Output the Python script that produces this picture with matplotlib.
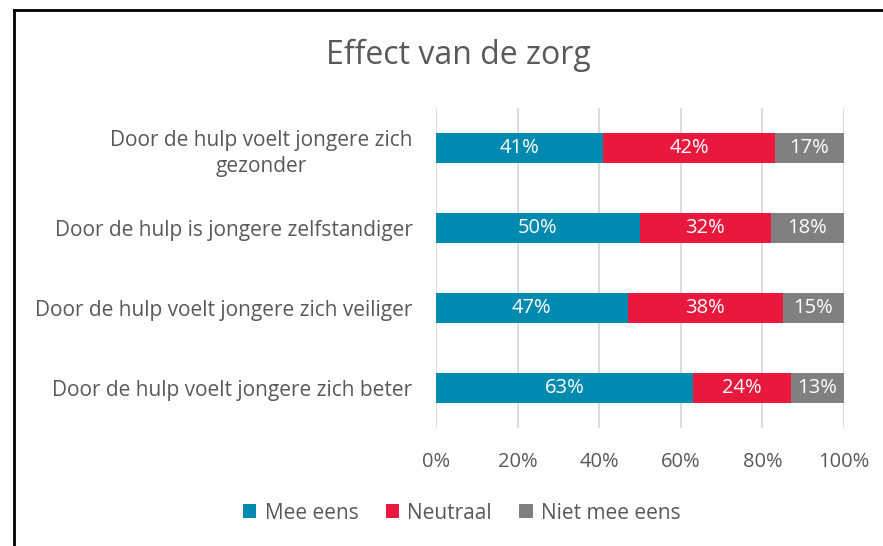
import matplotlib.pyplot as plt
from matplotlib.lines import Line2D

categories = [
    'Door de hulp voelt jongere zich\ngezonder',
    'Door de hulp is jongere zelfstandiger',
    'Door de hulp voelt jongere zich veiliger',
    'Door de hulp voelt jongere zich beter',
]
mee_eens = [41, 50, 47, 63]
neutraal = [42, 32, 38, 24]
niet_mee_eens = [17, 18, 15, 13]
series_names = ['Mee eens', 'Neutraal', 'Niet mee eens']
colors = ['#008AB0', '#E8193C', '#808080']
text_color = '#595959'

plt.rcParams['font.family'] = ['Open Sans', 'DejaVu Sans']

fig = plt.figure(figsize=(8.83, 5.46), dpi=100)
ax = fig.add_axes([0.4938, 0.2161, 0.462, 0.5861])

ypos = list(range(len(categories)))
left = [0] * len(categories)
for name, vals, col in zip(series_names, [mee_eens, neutraal, niet_mee_eens], colors):
    bars = ax.barh(ypos, vals, left=left, height=0.375, color=col, label=name, zorder=3)
    ax.bar_label(bars, labels=[f'{v}%' for v in vals], label_type='center',
                 color='white', fontsize=14.5)
    left = [l + v for l, v in zip(left, vals)]

ax.set_xlim(0, 100)
ax.set_ylim(len(categories) - 0.5, -0.5)
ax.set_xticks(range(0, 101, 20))
ax.set_xticklabels([f'{t}%' for t in range(0, 101, 20)])
ax.set_yticks(ypos)
ax.set_yticklabels(categories, ha='right', multialignment='center', linespacing=1.35)
ax.tick_params(axis='both', length=0, colors=text_color, labelsize=14.5)
ax.tick_params(axis='y', labelsize=15)
ax.tick_params(axis='x', pad=17)
ax.tick_params(axis='y', pad=17)
ax.grid(axis='x', color='#D9D9D9', linewidth=1.3, zorder=0)
for s in ax.spines.values():
    s.set_visible(False)

fig.text(0.519, 0.899, 'Effect van de zorg', ha='center', va='center',
         fontsize=23, color=text_color)

fig.legend(loc='center', bbox_to_anchor=(0.523, 0.06), ncol=3, frameon=False,
           fontsize=15, labelcolor=text_color, handlelength=0.65, handleheight=0.65,
           handletextpad=0.4, columnspacing=1.3)

# partial border like the original crop
fig.add_artist(Line2D([0.016, 0.016], [0.0, 0.982], transform=fig.transFigure,
                      color='black', linewidth=2))
fig.add_artist(Line2D([0.016, 1.0], [0.982, 0.982], transform=fig.transFigure,
                      color='black', linewidth=2))

fig.savefig('out.png', dpi=100)
